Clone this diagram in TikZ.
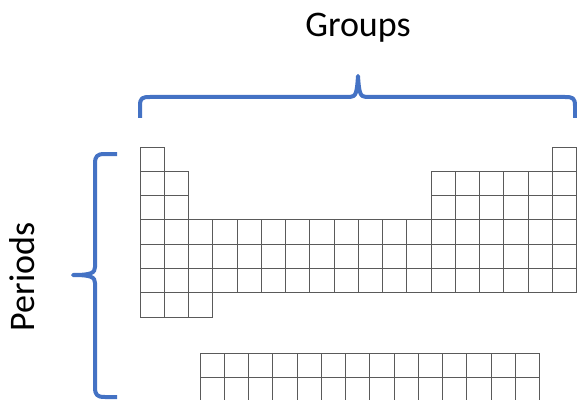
\documentclass[tikz,border=0pt]{standalone}
\usepackage{fontspec}
\setmainfont{Carlito}
\definecolor{bracecol}{HTML}{4472C4}
\definecolor{gridcol}{HTML}{5A5A5A}
\begin{document}
\begin{tikzpicture}[x=0.75pt,y=-0.75pt,
  cellline/.style={draw=gridcol,line width=0.75pt},
  bracestroke/.style={draw=bracecol,line width=3pt,line join=round},
  label/.style={font=\fontsize{27pt}{31pt}\selectfont,text=black,inner sep=0pt}]
\useasboundingbox (0,0) rectangle (577,399);
\def\cw{24.25}
\def\ch{24.3}
\def\gx{140}
\def\gy{147}
% cell macro: column c, row r (1-based)
\newcommand{\pcell}[2]{%
  \draw[cellline] ({\gx+(#1-1)*\cw},{\gy+(#2-1)*\ch}) rectangle ++(\cw,\ch);}
% row 1
\pcell{1}{1}\pcell{18}{1}
% rows 2-3
\foreach \r in {2,3}{
  \foreach \c in {1,2,13,14,15,16,17,18}{\pcell{\c}{\r}}}
% rows 4-6
\foreach \r in {4,5,6}{
  \foreach \c in {1,...,18}{\pcell{\c}{\r}}}
% row 7
\foreach \c in {1,2,3}{\pcell{\c}{7}}
% lower block
\begin{scope}
\clip (0,0) rectangle (577,399);
\foreach \r in {0,1}{
  \foreach \c in {0,...,13}{
    \draw[cellline] ({200+\c*\cw},{353+\r*\ch}) rectangle ++(\cw,\ch);}}
\end{scope}
% top brace
\coordinate (tl) at (140,118);
\coordinate (tr) at (575,118);
\coordinate (tt) at (358,76);
\draw[bracestroke] (tl) -- (140,106) .. controls (140,98) and (142,97) .. (150,97)
  -- (350,97) .. controls (356,97) and (357,92) .. (tt)
  .. controls (359,92) and (360,97) .. (366,97) -- (565,97)
  .. controls (573,97) and (575,98) .. (575,106) -- (tr);
% left brace
\coordinate (lt) at (117,154);
\coordinate (lb) at (117,397);
\coordinate (lm) at (73,275);
\draw[bracestroke] (lt) -- (105,154) .. controls (97,154) and (95,156) .. (95,164)
  -- (95,267) .. controls (95,273) and (91,275) .. (lm)
  .. controls (91,275) and (95,277) .. (95,283) -- (95,387)
  .. controls (95,395) and (97,397) .. (105,397) -- (lb);
% labels
\node[label,anchor=base] (groups) at (358,37) {Groups};
\node[label,anchor=base,rotate=90] (periods) at (34,277) {Periods};
\end{tikzpicture}
\end{document}
